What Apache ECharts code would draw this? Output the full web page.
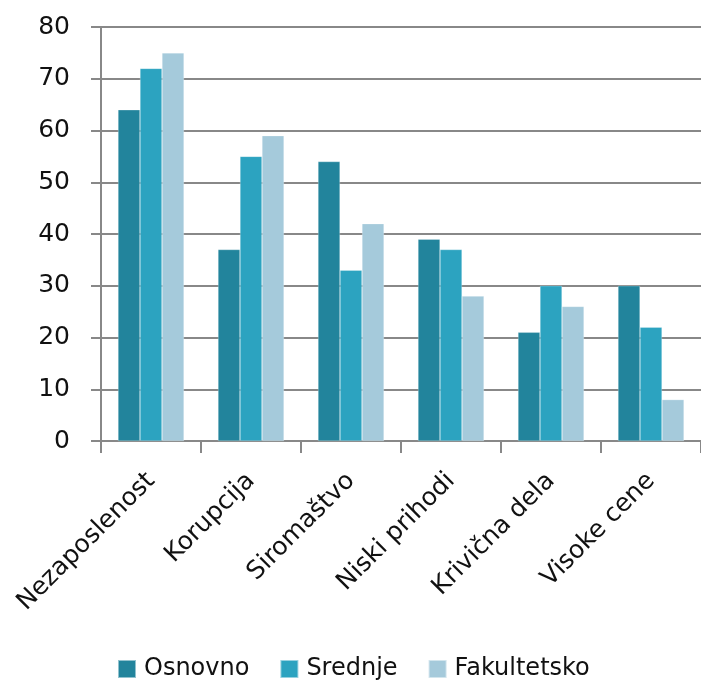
<!DOCTYPE html>
<html><head><meta charset="utf-8">
<script src="https://cdn.jsdelivr.net/npm/echarts@6/dist/echarts.min.js"></script>
<style>html,body{margin:0;padding:0;background:#fff}#c{width:701px;height:681px}</style>
</head><body><div id="c"></div>
<script>
const categories = ["Nezaposlenost","Korupcija","Siromaštvo","Niski prihodi","Krivična dela","Visoke cene"];
const osnovno = [64,37,54,39,21,30];
const srednje = [72,55,33,37,30,22];
const fakultetsko = [75,59,42,28,26,8];
const seriesNames = ["Osnovno","Srednje","Fakultetsko"];
const colors = ["#22849c","#2ca3c0","#a5cadb"];
const font = "DejaVu Sans";
const chart = echarts.init(document.getElementById('c'));
const mk = (name, data, color) => ({
  name, type:'bar', data, barWidth:22, barGap:'0%',
  itemStyle:{color, borderColor:'rgba(255,255,255,0.5)', borderWidth:0.5},
  animation:false
});
chart.setOption({
  animation:false,
  color: colors,
  grid:{left:101, right:0, top:27, bottom:240, containLabel:false},
  legend:{
    top:652, left:112, itemWidth:18, itemHeight:18, itemGap:30,
    icon:'rect',
    textStyle:{fontFamily:font, fontSize:24, color:'#111', padding:[0,0,0,3]},
    data: seriesNames
  },
  xAxis:{
    type:'category', data:categories,
    axisLine:{lineStyle:{color:'#888', width:2}},
    axisTick:{show:true, length:12, lineStyle:{color:'#888', width:2}, alignWithLabel:false},
    axisLabel:{rotate:45, fontFamily:font, fontSize:25, color:'#111', margin:36, interval:0, padding:[0,0,0,0]}
  },
  yAxis:{
    type:'value', min:0, max:80, interval:10,
    axisLine:{show:true, lineStyle:{color:'#888', width:2}},
    axisTick:{show:true, length:10, lineStyle:{color:'#888', width:2}},
    splitLine:{lineStyle:{color:'#888', width:2}},
    axisLabel:{fontFamily:font, fontSize:25, color:'#111', margin:31}
  },
  series:[mk(seriesNames[0], osnovno, colors[0]), mk(seriesNames[1], srednje, colors[1]), mk(seriesNames[2], fakultetsko, colors[2])]
});
</script></body></html>
